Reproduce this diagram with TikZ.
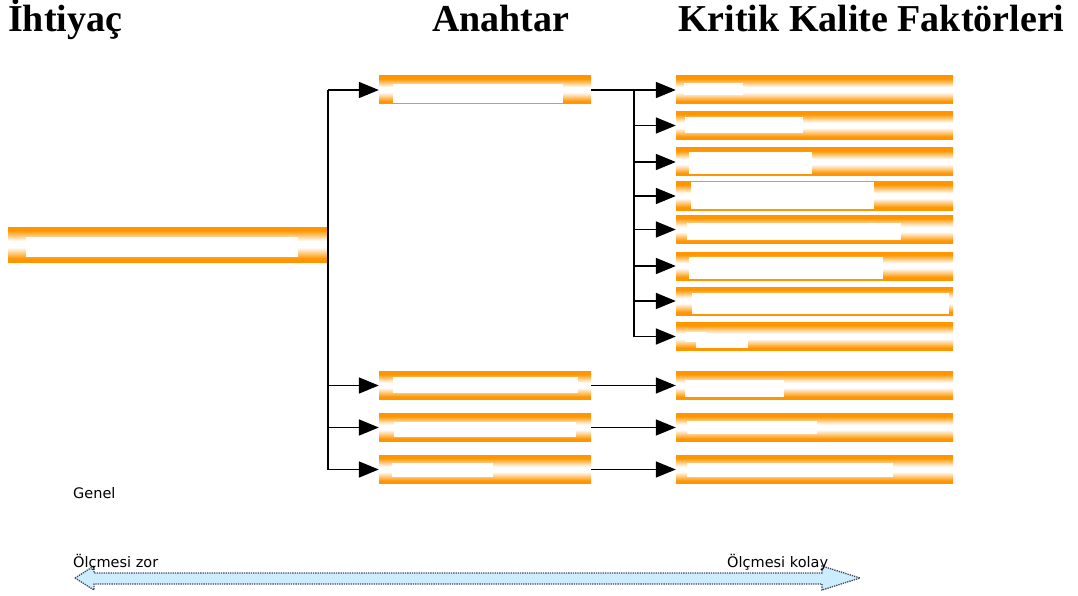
\documentclass[tikz,border=0pt]{standalone}
\usepackage{fontspec}
\newfontfamily\hdrfont{Liberation Serif}
\newfontfamily\smallfont{DejaVu Sans}
\usetikzlibrary{arrows.meta}
\definecolor{barorange}{RGB}{255,150,0}
\definecolor{lightblue}{RGB}{204,236,255}
\definecolor{dotgray}{RGB}{70,70,90}
\pgfdeclareverticalshading{orangebar}{100bp}{color(0bp)=(barorange); color(25bp)=(barorange); color(30bp)=(barorange); color(46bp)=(white); color(55bp)=(white); color(70bp)=(barorange); color(75bp)=(barorange); color(100bp)=(barorange)}
\tikzset{
  bar/.style={rectangle, inner sep=0pt, draw=none, shading=orangebar},
  akey/.style={bar, minimum width=212pt, minimum height=28pt},
  ckey/.style={bar, minimum width=277pt, minimum height=28pt},
  redact/.style={fill=white, draw=none},
  line/.style={draw=black, line width=1.8pt},
  conn/.style={line, -{Triangle[length=20pt,width=16pt]}},
  hdr/.style={anchor=base west, inner sep=0pt, font=\hdrfont\bfseries\fontsize{38}{40}\selectfont},
  small/.style={anchor=base west, inner sep=0pt, font=\smallfont\fontsize{14.5}{16}\selectfont}
}
\begin{document}
\begin{tikzpicture}[x=1pt,y=-1pt]
\useasboundingbox (0,0) rectangle (1078,596);
% headers
\node[hdr] (h1) at (8,32) {İhtiyaç};
\node[hdr] (h2) at (432,32) {Anahtar};
\node[hdr] (h3) at (678,32) {Kritik Kalite Faktörleri};
% bars
\node[bar, minimum width=320pt, minimum height=35pt] (n) at (168,244.5) {};
\node[akey] (a1) at (485,90) {};
\node[akey] (a2) at (485,385.5) {};
\node[akey] (a3) at (485,427.5) {};
\node[akey] (a4) at (485,469.5) {};
\node[ckey] (r1) at (814.5,90) {};
\node[ckey] (r2) at (814.5,125.5) {};
\node[ckey] (r3) at (814.5,162) {};
\node[ckey] (r4) at (814.5,196) {};
\node[ckey] (r5) at (814.5,229.5) {};
\node[ckey] (r6) at (814.5,266) {};
\node[ckey] (r7) at (814.5,301) {};
\node[ckey] (r8) at (814.5,336.5) {};
\node[ckey] (r9) at (814.5,385.5) {};
\node[ckey] (r10) at (814.5,427.5) {};
\node[ckey] (r11) at (814.5,469.5) {};
% redactions
\fill[redact] (26,237) rectangle (298,257);
\fill[redact] (393,84) rectangle (563,103);
\fill[redact] (393,377) rectangle (578,393);
\fill[redact] (394,422) rectangle (576,437);
\fill[redact] (392,463) rectangle (493,477);
\fill[redact] (684,83) rectangle (743,95);
\fill[redact] (685,117) rectangle (803,133);
\fill[redact] (689,152) rectangle (812,174);
\fill[redact] (691,182) rectangle (874,209);
\fill[redact] (687,223) rectangle (901,240);
\fill[redact] (689,257) rectangle (883,279);
\fill[redact] (692,293) rectangle (949,314);
\fill[redact] (685,332) rectangle (707,342);
\fill[redact] (696,334) rectangle (748,348);
\fill[redact] (685,380) rectangle (784,397);
\fill[redact] (687,421) rectangle (817,434);
\fill[redact] (687,463) rectangle (893,477);
% connectors from need
\draw[line] (n.east |- a1.west) -- (n.east |- a4.west);
\foreach \k in {a1,a2,a3,a4} \draw[conn] (n.east |- \k.west) -- (\k.west);
% connectors from key 1
\coordinate (t2) at (634,90);
\draw[line] (a1.east) -- (t2);
\draw[line] (t2 |- r1.west) -- (t2 |- r8.west);
\foreach \k in {r1,r2,r3,r4,r5,r6,r7,r8} \draw[conn] (t2 |- \k.west) -- (\k.west);
\draw[conn, line width=1.5pt] (a2.east) -- (r9.west);
\draw[conn, line width=1.5pt] (a3.east) -- (r10.west);
\draw[conn, line width=1.5pt] (a4.east) -- (r11.west);
% bottom
\node[small] (g) at (73,498) {Genel};
\filldraw[fill=lightblue, draw=dotgray, densely dotted, line width=1.3pt]
  (75,578) -- (94,566) -- (94,573) -- (822,573) -- (822,566) -- (860,578)
  -- (822,590) -- (822,584) -- (94,584) -- (94,590) -- cycle;
\node[small] (z) at (73,567) {Ölçmesi zor};
\node[small] (k) at (727,567) {Ölçmesi kolay};
\end{tikzpicture}
\end{document}
